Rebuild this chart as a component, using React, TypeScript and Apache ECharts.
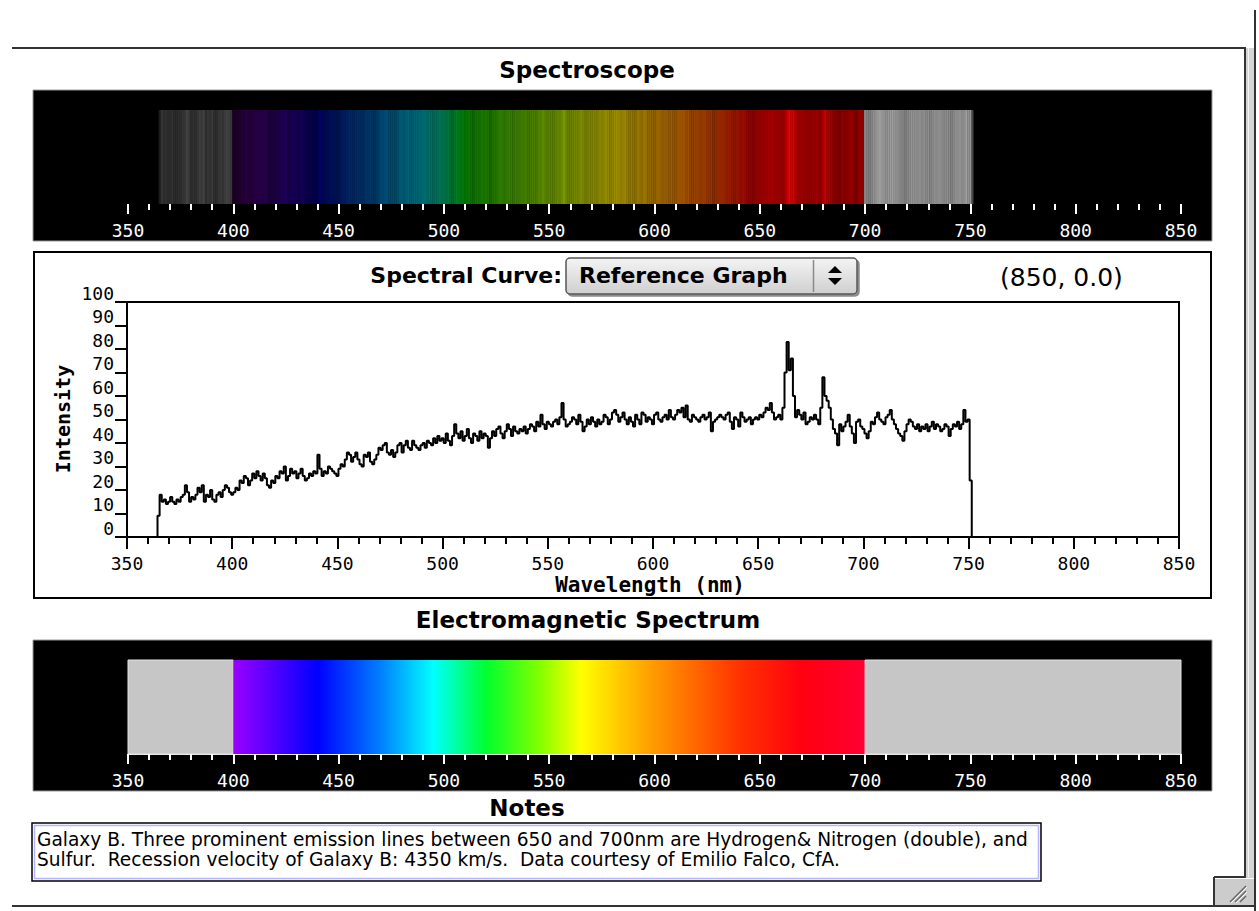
import React, { useEffect, useRef } from "react";
import * as echarts from "echarts";

// ---------- data ----------
const xTicks = [350, 400, 450, 500, 550, 600, 650, 700, 750, 800, 850];
const yTicks = [0, 10, 20, 30, 40, 50, 60, 70, 80, 90, 100];
const startNm = 364; // wavelength of the first intensity sample, 1 nm apart
const intensity = [
  0, 9, 18, 15, 16, 14,
  15, 17, 15, 14, 16, 15, 17, 18, 22, 19,
  15, 17, 16, 18, 21, 19, 22, 15, 18, 17,
  20, 16, 15, 18, 19, 17, 20, 22, 21, 19,
  18, 19, 21, 20, 24, 23, 26, 25, 22, 24,
  27, 25, 28, 26, 24, 27, 25, 22, 21, 24,
  23, 26, 25, 28, 27, 30, 24, 26, 29, 27,
  28, 25, 27, 29, 26, 24, 25, 27, 26, 28,
  27, 35, 29, 26, 28, 27, 30, 29, 28, 27,
  26, 29, 31, 30, 33, 36, 35, 32, 34, 36,
  33, 31, 30, 35, 34, 36, 32, 31, 33, 35,
  38, 37, 39, 40, 36, 35, 37, 34, 36, 39,
  40, 36, 39, 41, 38, 37, 41, 39, 38, 37,
  39, 40, 38, 41, 40, 39, 42, 40, 43, 41,
  42, 40, 44, 41, 39, 43, 48, 44, 42, 45,
  41, 43, 46, 42, 40, 44, 43, 41, 45, 42,
  44, 43, 38, 42, 45, 43, 46, 47, 44, 42,
  45, 48, 46, 43, 47, 45, 44, 46, 45, 47,
  44, 46, 48, 47, 45, 49, 47, 52, 48, 46,
  49, 48, 47, 49, 50, 48, 51, 57, 50, 47,
  48, 49, 51, 50, 48, 52, 49, 45, 47, 50,
  48, 51, 49, 47, 50, 48, 49, 52, 51, 48,
  50, 53, 54, 52, 49, 51, 53, 50, 48, 51,
  49, 47, 52, 50, 48, 53, 52, 49, 51, 50,
  48, 52, 53, 50, 49, 51, 52, 50, 54, 51,
  50, 52, 54, 53, 55, 51, 56, 50, 49, 52,
  51, 50, 49, 51, 52, 50, 51, 53, 45, 49,
  50, 51, 52, 51, 50, 52, 53, 49, 46, 51,
  50, 47, 53, 51, 49, 50, 51, 48, 50, 51,
  50, 52, 51, 53, 55, 54, 57, 53, 50, 51,
  52, 50, 55, 70, 83, 71, 76, 60, 51, 54,
  52, 50, 53, 48, 49, 51, 50, 52, 50, 48,
  55, 68, 60, 58, 55, 50, 46, 44, 39, 48,
  45, 47, 49, 52, 47, 44, 40, 49, 50, 47,
  46, 44, 42, 45, 49, 48, 51, 53, 50, 49,
  48, 51, 52, 54, 50, 48, 46, 44, 43, 41,
  45, 48, 50, 49, 47, 46, 48, 45, 47, 46,
  48, 45, 47, 49, 46, 48, 47, 45, 46, 48,
  47, 43, 46, 48, 47, 49, 46, 48, 54, 49,
  50, 24, 0,
];
const visibleRange = [400, 700];
const emBands = [
  { from: 350, to: 400, kind: "gray" },
  { from: 400, to: 700, kind: "visible" },
  { from: 700, to: 850, kind: "gray" },
];
const emStops: [number, string][] = [
  [400, "#9a00ff"],
  [440, "#0000ff"],
  [470, "#0080ff"],
  [495, "#00ffff"],
  [520, "#00ff30"],
  [545, "#80ff00"],
  [565, "#ffff00"],
  [600, "#ff9900"],
  [640, "#ff3300"],
  [670, "#ff0010"],
  [700, "#ff0033"],
];
const cursorReadout = "(850, 0.0)";
const notesLines = [
  "Galaxy B. Three prominent emission lines between 650 and 700nm are Hydrogen& Nitrogen (double), and",
  "Sulfur.  Recession velocity of Galaxy B: 4350 km/s.  Data courtesy of Emilio Falco, CfA.",
];

// ---------- styling helpers ----------
const MONO = '"DejaVu Sans Mono", monospace';
const SANS = '"DejaVu Sans", sans-serif';

function brutonRGB(w: number): number[] {
  let r = 0, g = 0, b = 0;
  if (w < 440) { r = -(w - 440) / 60; b = 1; }
  else if (w < 490) { g = (w - 440) / 50; b = 1; }
  else if (w < 510) { g = 1; b = -(w - 510) / 20; }
  else if (w < 580) { r = (w - 510) / 70; g = 1; }
  else if (w < 645) { r = 1; g = -(w - 645) / 65; }
  else { r = 1; }
  let f = 1;
  if (w < 420) f = 0.3 + (0.7 * (w - 380)) / 40;
  return [r * f, g * f, b * f].map((c) => Math.pow(c, 0.8));
}

function specColor(w: number, v: number): string {
  if (w < visibleRange[0] || w >= visibleRange[1]) {
    const k = Math.max(0, Math.min(1, v / 86));
    const g = Math.round(255 * k);
    return `rgb(${g},${g},${g})`;
  }
  const k = Math.max(0, Math.min(1, v / 88));
  const [r, g, b] = brutonRGB(w);
  return `rgb(${Math.round(255 * r * k)},${Math.round(255 * g * k * 0.92)},${Math.round(255 * b * k)})`;
}

function bandAxis(gridIndex: number, withLine: boolean) {
  return {
    gridIndex,
    type: "value",
    min: xTicks[0],
    max: xTicks[xTicks.length - 1],
    interval: xTicks[1] - xTicks[0],
    position: "bottom",
    z: 10,
    axisLine: { show: withLine, lineStyle: { color: "#e8e8e8", width: 1 } },
    axisTick: { show: true, length: 10, lineStyle: { color: "#fff", width: 2 } },
    minorTick: { show: true, splitNumber: 5, length: 6, lineStyle: { color: "#fff", width: 2 } },
    axisLabel: {
      color: "#fff",
      fontFamily: MONO,
      fontSize: 18,
      margin: 17,
      showMinLabel: true,
      showMaxLabel: true,
    },
    splitLine: { show: false },
    minorSplitLine: { show: false },
  };
}

function txt(x: number, y: number, text: string, o: any = {}) {
  const align = o.align || "left";
  const va = o.va || "middle";
  return {
    type: "text",
    x,
    y,
    rotation: o.rotation || 0,
    z: 20,
    style: {
      text,
      fill: o.color || "#000",
      fontSize: o.size || 20,
      fontWeight: o.weight || "normal",
      fontFamily: o.family || SANS,
      align,
      textAlign: align,
      verticalAlign: va,
      textVerticalAlign: va,
    },
  };
}

function rect(x: number, y: number, w: number, h: number, style: any, z = -1, r = 0) {
  return { type: "rect", z, shape: { x, y, width: w, height: h, r }, style };
}

function seg(x1: number, y1: number, x2: number, y2: number, stroke: string, lineWidth = 2, z = 20) {
  return { type: "line", z, shape: { x1, y1, x2, y2 }, style: { stroke, lineWidth } };
}

export default function App() {
  const ref = useRef<HTMLDivElement>(null);

  useEffect(() => {
    document.body.style.margin = "0";
    if (!ref.current) return;
    const chart = echarts.init(ref.current, undefined, { renderer: "svg" });

    const curveData = intensity.map((v, i) => [startNm + i, v]);
    const bandData = emBands.map((b) => [b.from, b.to, b.kind === "gray" ? 0 : 1]);
    const spread = visibleRange[1] - visibleRange[0];
    const gradient = {
      type: "linear",
      x: 0,
      y: 0,
      x2: 1,
      y2: 0,
      colorStops: emStops.map(([w, c]) => ({ offset: (w - visibleRange[0]) / spread, color: c })),
    };

    const graphicEls: any[] = [
      // window frame
      seg(12, 48, 1246, 48, "#333", 2),
      rect(1246, 48, 8, 830, { fill: "#d4d4d4" }, 15),
      seg(1248.5, 48, 1248.5, 877, "#f4f4f4", 1),
      seg(1245, 48, 1245, 878, "#333", 2),
      seg(1255, 10, 1255, 911, "#333", 2),
      seg(12, 906, 1255, 906, "#333", 2),
      rect(1215, 879, 39, 26, { fill: "#cccccc" }, 15),
      seg(1214, 877, 1246, 877, "#333", 2),
      seg(1214, 877, 1214, 906, "#333", 2),
      seg(1230, 902, 1246, 886, "#666", 1.5),
      seg(1235, 902, 1246, 891, "#666", 1.5),
      seg(1240, 902, 1246, 896, "#666", 1.5),
      seg(1231, 903, 1247, 887, "#fff", 1),
      seg(1236, 903, 1247, 892, "#fff", 1),

      // spectroscope panel
      txt(587, 70, "Spectroscope", { size: 23, weight: "bold", align: "center" }),
      rect(33, 90, 1179, 151, { fill: "#000", stroke: "#999", lineWidth: 1 }),

      // spectral curve panel
      rect(34, 252, 1177, 346, { fill: "none", stroke: "#000", lineWidth: 2 }, 20),
      txt(562, 275, "Spectral Curve:", { size: 22, weight: "bold", align: "right" }),
      rect(566, 258, 291, 36, {
        fill: { type: "linear", x: 0, y: 0, x2: 0, y2: 1, colorStops: [
          { offset: 0, color: "#f4f4f4" }, { offset: 1, color: "#cfcfcf" } ] },
        stroke: "#555",
        lineWidth: 1.5,
        shadowColor: "rgba(0,0,0,0.45)",
        shadowOffsetX: 2,
        shadowOffsetY: 2,
      }, 18, 4),
      seg(813.5, 260, 813.5, 292, "#8a8a8a", 1.5),
      { type: "polygon", z: 20, shape: { points: [[828, 273], [842, 273], [835, 266]] }, style: { fill: "#000" } },
      { type: "polygon", z: 20, shape: { points: [[828, 278], [842, 278], [835, 285]] }, style: { fill: "#000" } },
      txt(579, 275, "Reference Graph", { size: 22, weight: "bold" }),
      txt(1000, 277, cursorReadout, { size: 25 }),
      txt(63, 419, "Intensity", { size: 20, weight: "bold", family: MONO, align: "center", rotation: Math.PI / 2 }),
      txt(650, 585, "Wavelength (nm)", { size: 21, weight: "bold", family: MONO, align: "center" }),

      // electromagnetic spectrum panel
      txt(588, 620, "Electromagnetic Spectrum", { size: 23, weight: "bold", align: "center" }),
      rect(33, 640, 1179, 151, { fill: "#000", stroke: "#999", lineWidth: 1 }),

      // notes
      txt(527, 808, "Notes", { size: 23, weight: "bold", align: "center" }),
      rect(32, 823, 1009, 58, { fill: "#fff", stroke: "#000", lineWidth: 1.5 }, 18),
      rect(34.5, 825.5, 1004, 53, { fill: "none", stroke: "#b4b4ff", lineWidth: 1.5 }, 19),
      txt(37, 839, notesLines[0], { size: 18.6 }),
      txt(37, 859, notesLines[1], { size: 18.6 }),
    ];

    const option: any = {
      animation: false,
      backgroundColor: "#fff",
      tooltip: { show: false },
      grid: [
        { left: 128, top: 110, width: 1053, height: 94, show: false, outerBoundsMode: "none" },
        {
          left: 127, top: 302, width: 1052, height: 235, show: true,
          borderColor: "#000", borderWidth: 2, backgroundColor: "transparent", outerBoundsMode: "none",
        },
        { left: 128, top: 660, width: 1053, height: 94, show: false, outerBoundsMode: "none" },
      ],
      xAxis: [
        bandAxis(0, false),
        {
          gridIndex: 1,
          type: "value",
          min: xTicks[0],
          max: xTicks[xTicks.length - 1],
          interval: xTicks[1] - xTicks[0],
          z: 10,
          axisLine: { show: true, onZero: false, lineStyle: { color: "#000", width: 2 } },
          axisTick: { show: true, length: 12, lineStyle: { color: "#000", width: 2 } },
          minorTick: { show: true, splitNumber: 5, length: 7, lineStyle: { color: "#000", width: 2 } },
          axisLabel: { color: "#000", fontFamily: MONO, fontSize: 18, margin: 17, showMinLabel: true, showMaxLabel: true },
          splitLine: { show: false },
          minorSplitLine: { show: false },
        },
        bandAxis(2, true),
      ],
      yAxis: [
        { gridIndex: 0, type: "value", min: 0, max: 1, show: false },
        {
          gridIndex: 1,
          type: "value",
          min: yTicks[0],
          max: yTicks[yTicks.length - 1],
          interval: yTicks[1] - yTicks[0],
          z: 10,
          axisLine: { show: true, onZero: false, lineStyle: { color: "#000", width: 2 } },
          axisTick: { show: true, length: 12, lineStyle: { color: "#000", width: 2 } },
          axisLabel: {
            color: "#000", fontFamily: MONO, fontSize: 18, margin: 13,
            verticalAlign: "bottom", showMinLabel: true, showMaxLabel: true,
          },
          splitLine: { show: false },
        },
        { gridIndex: 2, type: "value", min: 0, max: 1, show: false },
      ],
      series: [
        {
          type: "custom",
          xAxisIndex: 0,
          yAxisIndex: 0,
          z: 5,
          silent: true,
          data: curveData,
          renderItem: (_p: any, api: any) => {
            const w = api.value(0);
            const v = api.value(1);
            const a = api.coord([w - 0.5, 1]);
            const b = api.coord([w + 0.5, 0]);
            const c = specColor(w, v);
            return {
              type: "rect",
              shape: { x: a[0], y: a[1], width: b[0] - a[0] + 0.3, height: b[1] - a[1] },
              style: { fill: c },
            };
          },
        },
        {
          type: "line",
          xAxisIndex: 1,
          yAxisIndex: 1,
          z: 5,
          data: curveData,
          step: "middle",
          symbol: "none",
          showSymbol: false,
          silent: true,
          lineStyle: { color: "#000", width: 2 },
        },
        {
          type: "custom",
          xAxisIndex: 2,
          yAxisIndex: 2,
          z: 5,
          silent: true,
          data: bandData,
          renderItem: (_p: any, api: any) => {
            const from = api.value(0);
            const to = api.value(1);
            const kind = api.value(2);
            const a = api.coord([from, 1]);
            const b = api.coord([to, 0]);
            return {
              type: "rect",
              shape: { x: a[0], y: a[1], width: b[0] - a[0], height: b[1] - a[1] },
              style: kind === 0
                ? { fill: "#c6c6c6", stroke: "#e4e4e4", lineWidth: 1 }
                : { fill: gradient },
            };
          },
        },
      ],
      graphic: { elements: graphicEls },
    };

    chart.setOption(option);
    return () => chart.dispose();
  }, []);

  return (
    <div
      ref={ref}
      style={{ position: "relative", width: 1259, height: 911, background: "#fff" }}
    />
  );
}
